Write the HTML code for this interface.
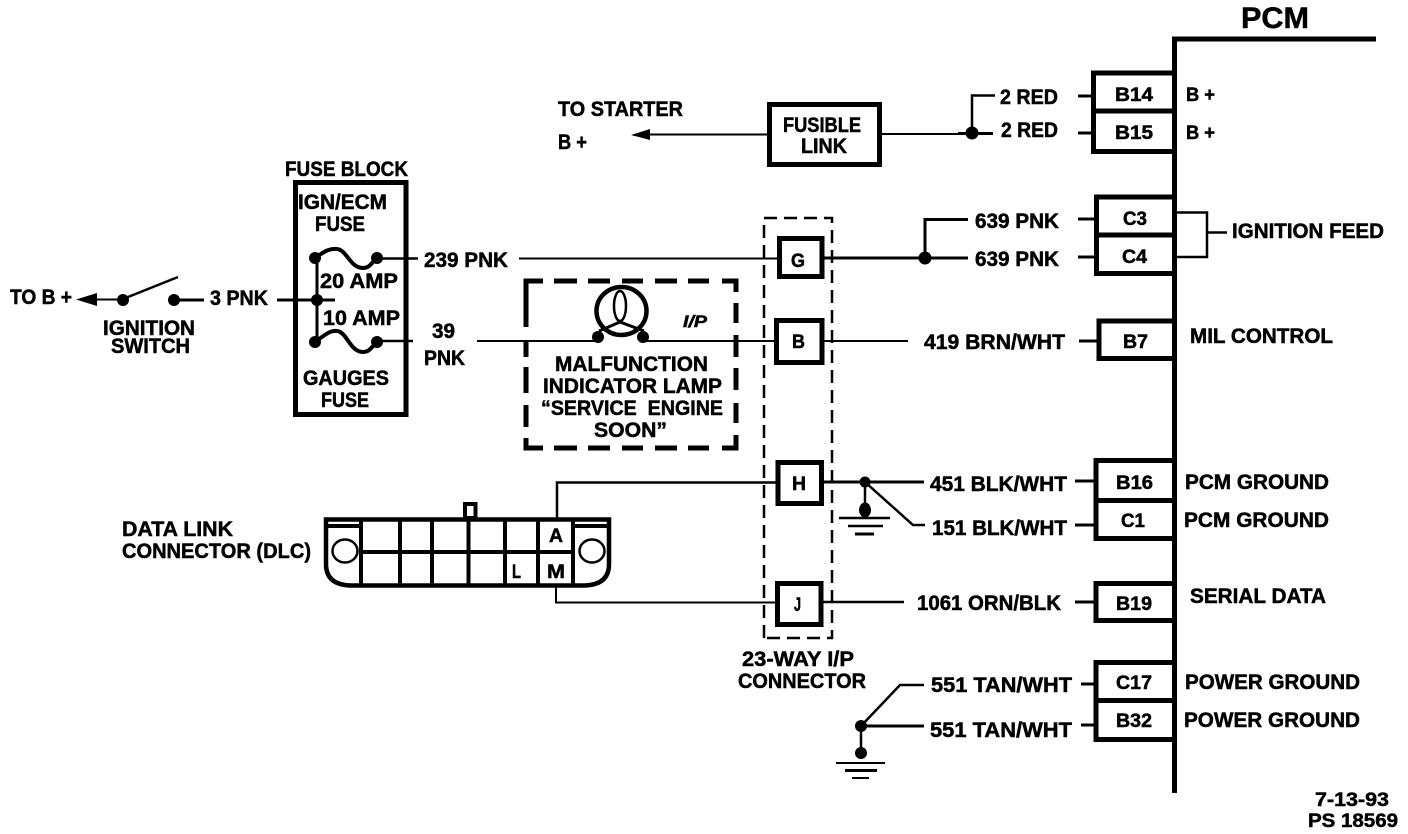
<!DOCTYPE html>
<html lang="en">
<head>
<meta charset="utf-8">
<title>PCM wiring diagram</title>
<style>
html,body{margin:0;padding:0;background:#fff;width:1408px;height:834px;overflow:hidden}
svg{display:block}
text{font-family:"Liberation Sans",sans-serif;font-weight:bold;font-size:21px;fill:#000;stroke:#000;stroke-width:.5px;white-space:pre}
.s{font-size:19px}
line,path,rect,ellipse,circle.o{fill:none;stroke:#000}
circle{fill:#000}
</style>
</head>
<body>
<svg width="1408" height="834" viewBox="0 0 1408 834" xmlns="http://www.w3.org/2000/svg">
<rect x="0" y="0" width="1408" height="834" style="fill:#fff;stroke:none"/>

<!-- PCM spine -->
<path d="M1174.5 793V39H1376" stroke-width="5"/>
<text x="1241" y="28" textLength="68" lengthAdjust="spacingAndGlyphs" style="font-size:30px">PCM</text>

<!-- PCM pin boxes -->
<g stroke-width="5">
<rect x="1093.5" y="73" width="81" height="78.5"/><line x1="1093" y1="111" x2="1175" y2="111"/>
<rect x="1096.5" y="197" width="78" height="76.5"/><line x1="1096" y1="235" x2="1175" y2="235"/>
<rect x="1099" y="321" width="75.500" height="37.500"/>
<rect x="1096" y="460.500" width="78.500" height="78"/><line x1="1096" y1="500.500" x2="1175" y2="500.500"/>
<rect x="1096" y="583.500" width="78.500" height="37"/>
<rect x="1096" y="662.500" width="78.500" height="77"/><line x1="1096" y1="700.500" x2="1175" y2="700.500"/>
</g>

<!-- Pin labels -->
<g class="s">
<text class="s" x="1115" y="101" textLength="38" lengthAdjust="spacingAndGlyphs">B14</text>
<text class="s" x="1115" y="139" textLength="38" lengthAdjust="spacingAndGlyphs">B15</text>
<text class="s" x="1123" y="225" textLength="24" lengthAdjust="spacingAndGlyphs">C3</text>
<text class="s" x="1122" y="263" textLength="25" lengthAdjust="spacingAndGlyphs">C4</text>
<text class="s" x="1123" y="348" textLength="25" lengthAdjust="spacingAndGlyphs">B7</text>
<text class="s" x="1116" y="489" textLength="37" lengthAdjust="spacingAndGlyphs">B16</text>
<text class="s" x="1121" y="527" textLength="24" lengthAdjust="spacingAndGlyphs">C1</text>
<text class="s" x="1116" y="610" textLength="36" lengthAdjust="spacingAndGlyphs">B19</text>
<text class="s" x="1116" y="689" textLength="36" lengthAdjust="spacingAndGlyphs">C17</text>
<text class="s" x="1116" y="727" textLength="36" lengthAdjust="spacingAndGlyphs">B32</text>
</g>

<!-- PCM right labels -->
<text class="s" x="1186" y="101" textLength="29" lengthAdjust="spacingAndGlyphs">B +</text>
<text class="s" x="1186" y="139" textLength="29" lengthAdjust="spacingAndGlyphs">B +</text>
<text x="1232" y="238" textLength="152" lengthAdjust="spacingAndGlyphs">IGNITION FEED</text>
<text x="1190" y="343" textLength="143" lengthAdjust="spacingAndGlyphs">MIL CONTROL</text>
<text x="1185" y="489" textLength="144" lengthAdjust="spacingAndGlyphs">PCM GROUND</text>
<text x="1184" y="527" textLength="145" lengthAdjust="spacingAndGlyphs">PCM GROUND</text>
<text x="1190" y="603" textLength="136" lengthAdjust="spacingAndGlyphs">SERIAL DATA</text>
<text x="1185" y="689" textLength="175" lengthAdjust="spacingAndGlyphs">POWER GROUND</text>
<text x="1184" y="727" textLength="176" lengthAdjust="spacingAndGlyphs">POWER GROUND</text>

<!-- Ignition feed bracket -->
<path d="M1176 212.500H1207V257H1176M1207 232.500H1227" stroke-width="2.500"/>

<!-- Wire labels -->
<text x="1000" y="104" textLength="58" lengthAdjust="spacingAndGlyphs">2 RED</text>
<text x="1001" y="137" textLength="57" lengthAdjust="spacingAndGlyphs">2 RED</text>
<text x="975" y="228" textLength="84" lengthAdjust="spacingAndGlyphs">639 PNK</text>
<text x="975" y="266" textLength="84" lengthAdjust="spacingAndGlyphs">639 PNK</text>
<text x="924" y="349" textLength="141" lengthAdjust="spacingAndGlyphs">419 BRN/WHT</text>
<text x="930" y="491" textLength="137" lengthAdjust="spacingAndGlyphs">451 BLK/WHT</text>
<text x="932" y="535" textLength="135" lengthAdjust="spacingAndGlyphs">151 BLK/WHT</text>
<text x="917" y="610" textLength="144" lengthAdjust="spacingAndGlyphs">1061 ORN/BLK</text>
<text x="931" y="692" textLength="141" lengthAdjust="spacingAndGlyphs">551 TAN/WHT</text>
<text x="930" y="737" textLength="142" lengthAdjust="spacingAndGlyphs">551 TAN/WHT</text>

<!-- Wire stubs -->
<g stroke-width="3">
<line x1="1078" y1="96" x2="1092" y2="96"/>
<line x1="1078" y1="133" x2="1092" y2="133"/>
<line x1="1078" y1="219" x2="1095" y2="219"/>
<line x1="1078" y1="257" x2="1095" y2="257"/>
<line x1="1079" y1="341" x2="1097" y2="341"/>
<line x1="1075" y1="481" x2="1094" y2="481"/>
<line x1="1075" y1="525" x2="1094" y2="525"/>
<line x1="1075" y1="602" x2="1094" y2="602"/>
<line x1="1081" y1="684" x2="1094" y2="684"/>
<line x1="1081" y1="725" x2="1094" y2="725"/>
</g>

<!-- Fusible link -->
<rect x="769.500" y="104.500" width="110" height="60" stroke-width="5"/>
<text x="783" y="132" textLength="78" lengthAdjust="spacingAndGlyphs">FUSIBLE</text>
<text x="801" y="153" textLength="46" lengthAdjust="spacingAndGlyphs">LINK</text>
<text x="558" y="116" textLength="125" lengthAdjust="spacingAndGlyphs">TO STARTER</text>
<text x="558" y="149" textLength="29" lengthAdjust="spacingAndGlyphs">B +</text>
<line x1="645" y1="134.500" x2="768" y2="134.500" stroke-width="2"/>
<path d="M631 135L650 129V140Z" style="fill:#000;stroke:none"/>
<line x1="880" y1="134" x2="960" y2="134" stroke-width="2"/>
<line x1="958" y1="133.500" x2="993" y2="133.500" stroke-width="3"/>
<path d="M972 133V95.500H995" stroke-width="2.500"/>
<circle cx="972" cy="133" r="6.500"/>

<!-- 23-way connector -->
<g stroke-width="2.500" stroke-dasharray="13 7">
<path d="M764 638V218H832V638H764"/>
</g>
<g stroke-width="5">
<rect x="779.500" y="238.500" width="42.500" height="38"/>
<rect x="776.500" y="320.500" width="45.500" height="42"/>
<rect x="778" y="462.500" width="43.500" height="41"/>
<rect x="777.500" y="583.500" width="43.500" height="41"/>
</g>
<text class="s" x="791" y="267" textLength="14" lengthAdjust="spacingAndGlyphs">G</text>
<text class="s" x="792" y="348" textLength="13" lengthAdjust="spacingAndGlyphs">B</text>
<text class="s" x="792" y="490" textLength="14" lengthAdjust="spacingAndGlyphs">H</text>
<text class="s" x="794" y="611" textLength="7" lengthAdjust="spacingAndGlyphs">J</text>
<text x="742" y="666" textLength="112" lengthAdjust="spacingAndGlyphs">23-WAY I/P</text>
<text x="738" y="688" textLength="128" lengthAdjust="spacingAndGlyphs">CONNECTOR</text>

<!-- Wires through connector -->
<line x1="519" y1="258.500" x2="778" y2="258.500" stroke-width="2"/>
<line x1="823" y1="258" x2="968" y2="258" stroke-width="3"/>
<path d="M925 258V219.500H968" stroke-width="3"/>
<circle cx="925" cy="258" r="6.500"/>
<line x1="477" y1="341" x2="598" y2="341" stroke-width="2"/>
<line x1="643" y1="341" x2="775" y2="341" stroke-width="2"/>
<line x1="823" y1="341" x2="908" y2="341" stroke-width="2"/>
<path d="M824 482H924" stroke-width="3"/>
<path d="M865 482L913 525H925" stroke-width="2.500"/>
<line x1="865" y1="482" x2="865" y2="510" stroke-width="2.500"/>
<circle cx="865" cy="482" r="5.500"/>
<ellipse cx="865" cy="510" rx="5.500" ry="7" style="fill:#000"/>
<line x1="839" y1="518" x2="890" y2="518" stroke-width="2.500"/>
<line x1="848" y1="526" x2="883" y2="526" stroke-width="2.500"/>
<line x1="855" y1="534" x2="874" y2="534" stroke-width="3"/>
<line x1="822" y1="602" x2="904" y2="602" stroke-width="2.500"/>

<!-- Power ground -->
<path d="M861 726L900 685H924" stroke-width="2.500"/>
<line x1="861" y1="726" x2="924" y2="726" stroke-width="3"/>
<line x1="861" y1="726" x2="861" y2="753" stroke-width="2.500"/>
<circle cx="861" cy="726" r="6"/>
<circle cx="861" cy="753" r="6"/>
<line x1="836" y1="763" x2="885" y2="763" stroke-width="2"/>
<line x1="845" y1="770.500" x2="877" y2="770.500" stroke-width="3"/>
<line x1="852" y1="778" x2="869" y2="778" stroke-width="2"/>

<!-- Lamp box -->
<g stroke-width="5">
<path d="M543 281H526V327M554 281H577M588 281H610M622 281H643M655 281H677M688 281H709M722 281H736V292"/>
<path d="M736 303V323M736 335V357M736 368V390M736 403V423M736 435V448H722M709 448H688M677 448H655M643 448H622M610 448H588M577 448H554M543 448H526V438"/>
<path d="M526 427V405M526 393V367M526 357V340"/>
</g>
<ellipse cx="621.500" cy="311" rx="25" ry="24" stroke-width="4.500"/>
<ellipse cx="620" cy="306" rx="6" ry="15" stroke-width="2.500"/>
<path d="M599 331L620 322L644 331" stroke-width="3"/>
<circle cx="598" cy="337" r="6"/>
<circle cx="643" cy="337" r="6"/>
<text x="683" y="327" textLength="24" lengthAdjust="spacingAndGlyphs" style="font-size:17px;font-style:italic">I/P</text>
<text x="555" y="371" textLength="153" lengthAdjust="spacingAndGlyphs">MALFUNCTION</text>
<text x="543" y="393" textLength="179" lengthAdjust="spacingAndGlyphs">INDICATOR LAMP</text>
<text x="541" y="415" textLength="182" lengthAdjust="spacingAndGlyphs" xml:space="preserve">“SERVICE  ENGINE</text>
<text x="594" y="437" textLength="73" lengthAdjust="spacingAndGlyphs">SOON”</text>

<!-- Fuse block -->
<text x="285" y="176" textLength="123" lengthAdjust="spacingAndGlyphs">FUSE BLOCK</text>
<rect x="295.500" y="182.500" width="110.500" height="232" stroke-width="5"/>
<text x="298" y="209" textLength="89" lengthAdjust="spacingAndGlyphs">IGN/ECM</text>
<text x="315" y="231" textLength="50" lengthAdjust="spacingAndGlyphs">FUSE</text>
<text x="320" y="288" textLength="78" lengthAdjust="spacingAndGlyphs">20 AMP</text>
<text x="323" y="325" textLength="77" lengthAdjust="spacingAndGlyphs">10 AMP</text>
<text x="303" y="385" textLength="86" lengthAdjust="spacingAndGlyphs">GAUGES</text>
<text x="321" y="407" textLength="48" lengthAdjust="spacingAndGlyphs">FUSE</text>
<path d="M315 258C325 251 330 248 337 249C347 250 350 268 363 268C370 268 372 262 377 258" stroke-width="4"/>
<path d="M315 342C325 335 330 330 337 331C347 332 350 352 363 352C370 352 372 346 377 342" stroke-width="4"/>
<circle cx="315" cy="258" r="6"/><circle cx="377" cy="258" r="6"/>
<circle cx="315" cy="342" r="6"/><circle cx="377" cy="342" r="6"/>
<line x1="317" y1="258" x2="317" y2="342" stroke-width="3"/>
<line x1="277" y1="300" x2="335" y2="300" stroke-width="3"/>
<circle cx="317" cy="300" r="6"/>
<line x1="380" y1="258.500" x2="418" y2="258.500" stroke-width="2.500"/>
<line x1="380" y1="341" x2="413" y2="341" stroke-width="2.500"/>
<text x="424" y="267" textLength="84" lengthAdjust="spacingAndGlyphs">239 PNK</text>
<text x="432" y="338" textLength="23" lengthAdjust="spacingAndGlyphs">39</text>
<text x="424" y="365" textLength="41" lengthAdjust="spacingAndGlyphs">PNK</text>

<!-- Ignition switch -->
<text x="10" y="304" textLength="62" lengthAdjust="spacingAndGlyphs">TO B +</text>
<path d="M76 299.500L97 293V306Z" style="fill:#000;stroke:none"/>
<line x1="90" y1="299.500" x2="120" y2="299.500" stroke-width="2"/>
<circle cx="123" cy="300" r="6"/>
<line x1="128" y1="297" x2="178" y2="277" stroke-width="2.500"/>
<circle cx="174" cy="300" r="6"/>
<line x1="174" y1="300" x2="204" y2="300" stroke-width="3"/>
<text x="210" y="305" textLength="58" lengthAdjust="spacingAndGlyphs">3 PNK</text>
<text x="103" y="335" textLength="92" lengthAdjust="spacingAndGlyphs">IGNITION</text>
<text x="111" y="353" textLength="79" lengthAdjust="spacingAndGlyphs">SWITCH</text>

<!-- Data link connector -->
<text x="122" y="536" textLength="111" lengthAdjust="spacingAndGlyphs">DATA LINK</text>
<text x="122" y="558" textLength="189" lengthAdjust="spacingAndGlyphs">CONNECTOR (DLC)</text>
<path d="M326 519.500H609V564Q609 585 584 585.500H351Q326 585 326 564Z" stroke-width="4.500"/>
<g stroke-width="4">
<line x1="361" y1="519" x2="361" y2="586"/>
<line x1="400" y1="519" x2="400" y2="586"/>
<line x1="432" y1="519" x2="432" y2="586"/>
<line x1="468.500" y1="519" x2="468.500" y2="586"/>
<line x1="505" y1="519" x2="505" y2="586"/>
<line x1="538" y1="519" x2="538" y2="586"/>
<line x1="573" y1="519" x2="573" y2="586"/>
<line x1="361" y1="552" x2="573" y2="552"/>
<line x1="327" y1="526" x2="359" y2="526"/>
<line x1="575" y1="526" x2="608" y2="526"/>
<rect x="465" y="504" width="10.500" height="14"/>
</g>
<ellipse cx="345" cy="551" rx="12.500" ry="11.500" stroke-width="2.500"/>
<ellipse cx="592" cy="551" rx="12.500" ry="11.500" stroke-width="2.500"/>
<text class="s" x="549" y="542" textLength="14" lengthAdjust="spacingAndGlyphs">A</text>
<text class="s" x="547" y="578" textLength="18" lengthAdjust="spacingAndGlyphs">M</text>
<text class="s" x="512" y="578" textLength="9" lengthAdjust="spacingAndGlyphs">L</text>
<path d="M557 518V482.500H778" stroke-width="2.500"/>
<path d="M556 587V602.500H776" stroke-width="2"/>

<!-- Footer -->
<text class="s" x="1315" y="806" textLength="74" lengthAdjust="spacingAndGlyphs">7-13-93</text>
<text class="s" x="1308" y="827" textLength="90" lengthAdjust="spacingAndGlyphs">PS 18569</text>
</svg>
</body>
</html>
